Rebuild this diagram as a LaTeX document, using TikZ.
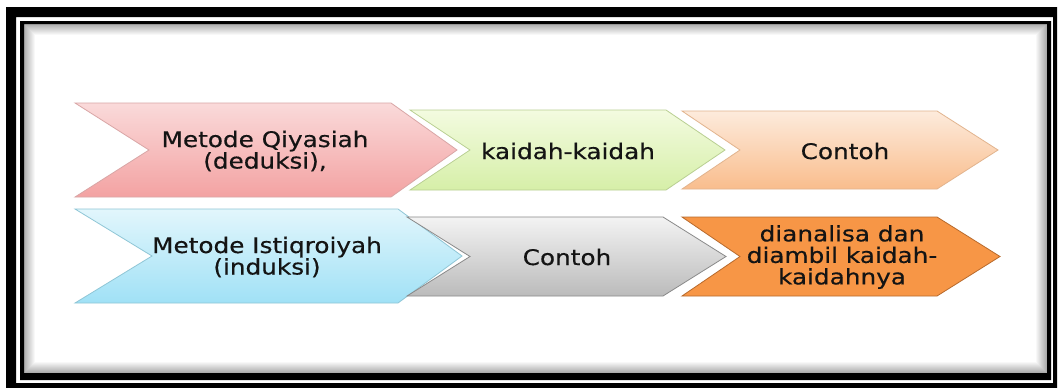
\documentclass[tikz,border=0pt]{standalone}
\usepackage{fontspec}
\newfontfamily\chevfont{DejaVu Sans}[FakeStretch=1.15, FakeBold=0.4]
\usepackage{tikz}
\usetikzlibrary{calc}
\definecolor{pinktop}{HTML}{FADADA}
\definecolor{pinkbot}{HTML}{F3A2A2}
\definecolor{pinkline}{HTML}{D9A6A6}
\definecolor{greentop}{HTML}{F3FBE0}
\definecolor{greenbot}{HTML}{D6EFA8}
\definecolor{greenline}{HTML}{B9CF92}
\definecolor{peachtop}{HTML}{FDEBDC}
\definecolor{peachbot}{HTML}{F9BD8D}
\definecolor{peachline}{HTML}{E2B48E}
\definecolor{bluetop}{HTML}{E2F6FC}
\definecolor{bluebot}{HTML}{A0E1F6}
\definecolor{blueline}{HTML}{8FC6D6}
\definecolor{graytop}{HTML}{F3F3F3}
\definecolor{graybot}{HTML}{BBBBBB}
\definecolor{grayline}{HTML}{8A8A8A}
\definecolor{orangefill}{HTML}{F79646}
\definecolor{orangeline}{HTML}{B86A2C}
\definecolor{labeltext}{HTML}{141414}
\def\chevron[#1](#2,#3,#4,#5,#6,#7){\draw[#1] (#2,#4) -- (#3,#4) -- ({#3+#7},{(#4+#5)/2}) -- (#3,#5) -- (#2,#5) -- ({#2+#6},{(#4+#5)/2}) -- cycle;}

\begin{document}
\begin{tikzpicture}[x=1pt, y=-1pt,
	label/.style={font=\chevfont\fontsize{21.5}{21.5}\selectfont, text=labeltext, align=center, inner sep=0pt}]
	%%%%% START %%%%%
	
	\useasboundingbox[fill=white] (0,0) rectangle (1060,388);
	
	% double frame
	\fill[black, even odd rule] (6,7) rectangle (1057,388) (16,17) rectangle (1053,383);
	\fill[black, even odd rule] (20,21) rectangle (1051,380) (24,24) rectangle (1047,373);
	\foreach \i in {0,...,10}
		\draw[line width=1pt, black, opacity={0.32*(1-\i/11)}] (24.5+\i, 24.5+\i) rectangle (1046.5-\i, 372.5-\i);
	
	% first row
	\chevron[line width=0.8pt, draw=pinkline, top color=pinktop, bottom color=pinkbot](75,391,103,197,74,66);
	\chevron[line width=0.8pt, draw=greenline, top color=greentop, bottom color=greenbot](410,666,110,190,60,59);
	\chevron[line width=0.8pt, draw=peachline, top color=peachtop, bottom color=peachbot](682,937,111,189,58,61);
	
	% second row
	\chevron[line width=0.8pt, draw=blueline, top color=bluetop, bottom color=bluebot](75,398,209,303,77,64);
	\chevron[line width=0.8pt, draw=grayline, top color=graytop, bottom color=graybot](407,663,217,296,63,63);
	\chevron[line width=0.8pt, draw=orangeline, fill=orangefill](682,937,217,296,58,63);
	
	\node[label] (qiyasiah) at (265,151) {Metode Qiyasiah\\(deduksi),};
	\node[label] (kaidah) at (568,151) {kaidah-kaidah};
	\node[label] (contohA) at (845,151) {Contoh};
	
	\node[label] (istiqroiyah) at (267,257) {Metode Istiqroiyah\\(induksi)};
	\node[label] (contohB) at (567,257) {Contoh};
	\node[label] (dianalisa) at (842,257) {dianalisa dan\\diambil kaidah-\\kaidahnya};
	
	%%%%% END %%%%%
\end{tikzpicture}
\end{document}
